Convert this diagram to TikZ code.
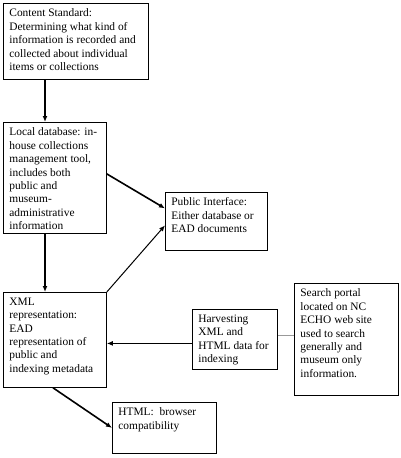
\documentclass[tikz,border=0pt]{standalone}
\usepackage{fontspec}
\setmainfont{Liberation Serif}
\usetikzlibrary{arrows.meta}
\newcommand{\bxtext}[3]{\parbox[t][#2][t]{#1}{\raggedright #3}}
\tikzset{
  boxnode/.style={draw, line width=0.8pt, anchor=north west, inner xsep=6pt, inner ysep=5.5pt,
    font=\fontsize{11.4}{13.4}\selectfont},
  flow/.style={line width=1.6pt, -{Latex[length=6pt,width=5pt]}},
  thinflow/.style={line width=1pt, -{Latex[length=6pt,width=5pt]}},
  plain/.style={line width=1pt, draw=gray!80}
}
\begin{document}
\begin{tikzpicture}[x=1pt,y=-1pt]
\useasboundingbox (0,0) rectangle (400,458);
\node[boxnode] (b1) at (3,3) {\bxtext{133pt}{65pt}{Content Standard:\\ Determining what kind of\\ information is recorded and\\ collected about individual\\ items or collections}};
\node[boxnode] (b2) at (3,122) {\bxtext{91pt}{100pt}{Local database: in-\\ house collections\\ management tool,\\ includes both\\ public and\\ museum-\\ administrative\\ information}};
\node[boxnode] (pub) at (165,192) {\bxtext{90pt}{47pt}{Public Interface:\\ Either database or\\ EAD documents}};
\node[boxnode] (xml) at (3,292) {\bxtext{91pt}{84pt}{XML\\ representation:\\ EAD\\ representation of\\ public and\\ indexing metadata}};
\node[boxnode] (harv) at (192,309) {\bxtext{73pt}{49pt}{Harvesting\\ XML and\\ HTML data for\\ indexing}};
\node[boxnode] (srch) at (294,283) {\bxtext{92pt}{101pt}{Search portal\\ located on NC\\ ECHO web site\\ used to search\\ generally and\\ museum only\\ information.}};
\node[boxnode] (html) at (112,402) {\bxtext{92pt}{40pt}{HTML:\ \ browser\\ compatibility}};

\draw[flow] ([xshift=42pt]b1.south west) -- ([xshift=42pt]b2.north west);
\draw[flow] ([xshift=42pt]b2.south west) -- ([xshift=42pt]xml.north west);
\draw[flow] ([yshift=4pt]b2.east) -- ([yshift=13pt]pub.west);
\draw[thinflow] (xml.north east) -- ([yshift=-4pt]pub.west);
\draw[flow] ([yshift=-4pt]harv.west) -- ([yshift=-4pt]harv.west -| xml.east);
\draw[plain] ([yshift=4pt]harv.east) -- ([yshift=4pt]harv.east -| srch.west);
\draw[flow] ([xshift=50pt]xml.south west) -- (html.west);
\end{tikzpicture}
\end{document}
